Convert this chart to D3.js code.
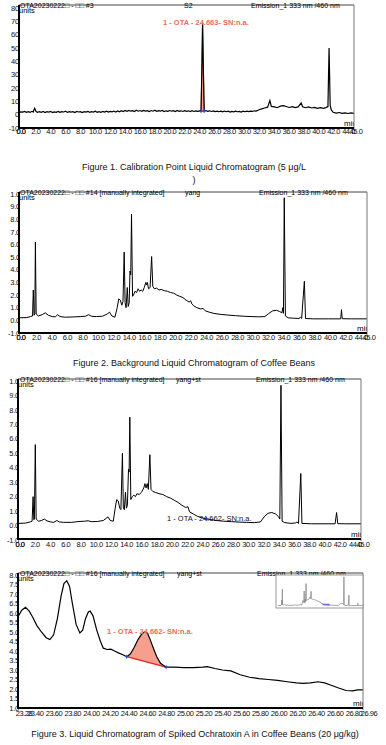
<!DOCTYPE html>
<html lang="en">
<head>
<meta charset="UTF-8">
<title>OTA chromatograms</title>
<style>
  body { margin: 0; background: #fff; }
  svg { display: block; font-family: "Liberation Sans", Arial, sans-serif; }
</style>
</head>
<body>
<script src="https://cdn.jsdelivr.net/npm/d3@7"></script>
<script>
// ---- data (time in min, signal in plot units) ----
const minuteTicks = [0, 2, 4, 6, 8, 10, 12, 14, 16, 18, 20, 22, 24, 26, 28, 30, 32, 34, 36, 38, 40, 42, 44];
const zoomTicks = [23.40, 23.60, 23.80, 24.00, 24.20, 24.40, 24.60, 24.80, 25.00, 25.20, 25.40, 25.60, 25.80, 26.00, 26.20, 26.40, 26.60, 26.80];
const calYTicks = [80, 70, 60, 50, 40, 30, 20, 10, 0, -10];
const beanYTicks = [10, 9, 8, 7, 6, 5, 4, 3, 2, 1, 0, -1];
const beanYLabels = ["1.0", "9.0", "8.0", "7.0", "6.0", "5.0", "4.0", "3.0", "2.0", "1.0", "0.0", "-1.0"];
const zoomYTicks = [8.0, 7.5, 7.0, 6.5, 6.0, 5.5, 5.0, 4.5, 4.0, 3.5, 3.0, 2.5, 2.0, 1.5, 1.0];

// Figure 1: calibration standard 5 ug/L
const calibrationTrace = [[0,1.6],[0.25,2.1],[0.5,1.9],[0.75,2.4],[1,1.7],[1.25,2.2],[1.5,1.8],[1.75,2.5],[1.9,2.0],[2.1,4.8],[2.3,2.3],[2.5,1.7],[2.75,2.3],[3,1.8],[3.25,2.4],[3.5,1.6],[3.75,2.2],[4,1.9],[4.25,2.5],[4.5,1.6],[4.75,2.1],[5,1.8],[5.25,2.4],[5.5,1.7],[5.75,2.2],[6,2.0],[6.25,2.6],[6.5,1.7],[6.75,2.3],[7,1.9],[7.25,2.2],[7.5,1.6],[7.75,2.4],[8,2.0],[8.25,2.3],[8.5,1.6],[8.75,2.2],[9,1.9],[9.25,2.5],[9.5,1.8],[9.75,2.3],[10,1.9],[10.25,2.6],[10.5,1.8],[10.75,2.2],[11,1.7],[11.25,2.4],[11.5,2.0],[11.75,2.6],[12,1.9],[12.25,2.5],[12.5,2.1],[12.75,2.7],[13,2.0],[13.25,2.8],[13.5,2.2],[13.75,3.0],[14,2.4],[14.25,3.1],[14.5,2.5],[14.75,3.2],[15,2.6],[15.25,3.0],[15.5,2.4],[15.75,3.3],[16,2.6],[16.25,3.1],[16.5,2.5],[16.75,3.2],[17,2.7],[17.25,3.0],[17.5,2.4],[17.75,3.1],[18,2.6],[18.25,3.3],[18.5,2.5],[18.75,3.0],[19,2.6],[19.25,3.2],[19.5,2.4],[19.75,2.9],[20,2.5],[20.25,3.1],[20.5,2.6],[20.75,3.0],[21,2.4],[21.25,3.2],[21.5,2.5],[21.75,2.9],[22,2.4],[22.25,3.0],[22.5,2.5],[22.75,2.9],[23,2.3],[23.25,3.0],[23.5,2.4],[23.75,2.8],[24,2.5],[24.25,2.9],[24.45,2.6],[24.55,30],[24.66,69],[24.78,30],[24.88,2.7],[25.1,3.1],[25.35,2.5],[25.6,2.9],[25.85,2.4],[26.1,2.8],[26.35,2.3],[26.6,2.7],[26.85,2.2],[27.1,2.6],[27.35,2.1],[27.6,2.7],[27.85,2.2],[28.1,2.6],[28.35,2.0],[28.6,2.5],[28.85,2.1],[29.1,2.6],[29.35,2.2],[29.6,2.5],[29.85,2.0],[30.1,2.6],[30.35,2.2],[30.6,2.7],[30.85,2.3],[31.1,2.6],[31.35,2.4],[31.6,2.9],[31.85,2.7],[32.1,3.3],[32.5,4.2],[33,5.0],[33.4,5.6],[33.7,10.5],[33.9,6.2],[34.3,5.8],[34.7,5.2],[35.1,6.4],[35.5,6.8],[35.9,6.1],[36.3,5.4],[36.7,6.0],[37.1,5.3],[37.5,5.8],[37.9,8.8],[38.1,5.9],[38.5,5.2],[38.9,5.8],[39.3,5.0],[39.7,5.5],[40.1,4.8],[40.5,5.2],[40.9,4.7],[41.2,5.3],[41.5,6.0],[41.65,50],[41.8,7],[41.95,3.5],[42.2,1.8],[42.6,1.2],[43,1.6],[43.4,1.0],[43.8,1.4],[44.2,0.9],[44.6,1.3],[45,1.0]];
const calPeakWindow = [24.45, 24.88];
const calPeakMarks = [[24.45, 2.6], [24.88, 2.7]];

// Figure 2: coffee bean background
const backgroundTrace = [[0,0.2],[1.0,0.22],[1.5,0.3],[1.75,0.35],[1.85,2.4],[1.95,0.4],[2.05,0.5],[2.12,6.2],[2.22,0.5],[2.5,0.35],[3.0,0.45],[3.4,0.6],[3.8,0.4],[4.3,0.3],[4.7,0.28],[5.0,0.45],[5.3,0.3],[6,0.25],[7,0.27],[8,0.3],[8.6,0.33],[9.0,0.45],[9.4,0.32],[10,0.3],[10.8,0.33],[11.4,0.5],[11.7,0.65],[12.0,0.35],[12.4,0.25],[12.7,1.0],[12.9,1.7],[13.1,1.6],[13.3,1.2],[13.45,1.5],[13.6,5.4],[13.72,1.4],[13.85,1.0],[14.0,2.6],[14.12,1.1],[14.25,1.4],[14.35,3.9],[14.45,3.6],[14.55,8.4],[14.68,1.9],[14.8,2.0],[15.0,2.3],[15.2,2.2],[15.4,2.5],[15.6,2.3],[15.8,2.4],[16.0,2.3],[16.2,2.6],[16.4,3.0],[16.5,2.8],[16.6,3.0],[16.75,2.5],[16.95,2.6],[17.15,5.05],[17.3,2.7],[17.5,2.5],[17.8,2.55],[18.1,2.4],[18.4,2.45],[18.8,2.35],[19.2,2.3],[19.6,2.2],[20.0,2.15],[20.4,2.0],[20.8,1.9],[21.2,1.8],[21.6,1.6],[22.0,1.45],[22.2,1.55],[22.35,1.3],[22.6,1.15],[23.0,1.0],[23.5,0.9],[23.8,0.95],[24.1,0.75],[24.6,0.65],[25.2,0.55],[26,0.48],[27,0.42],[28,0.37],[29,0.33],[30,0.3],[31,0.28],[31.8,0.3],[32.3,0.55],[32.8,0.75],[33.3,0.8],[33.7,0.7],[34.0,0.6],[34.1,1.0],[34.2,0.55],[34.3,9.7],[34.45,0.35],[34.8,0.2],[35.5,0.17],[36.2,0.15],[36.4,0.25],[36.55,0.15],[36.9,3.1],[37.05,0.15],[38,0.12],[40,0.12],[41.6,0.12],[41.7,0.85],[41.8,0.13],[43,0.12],[45,0.12]];

// Figure 3 (top): spiked coffee beans, full run
const spikedTrace = [[0,0.15],[1.0,0.17],[1.6,0.25],[1.85,0.3],[1.98,2.0],[2.08,0.4],[2.15,0.45],[2.27,5.6],[2.38,0.45],[2.7,0.3],[3.1,0.35],[3.45,0.45],[3.8,0.32],[4.3,0.25],[4.7,0.22],[5.1,0.35],[5.4,0.25],[6,0.22],[7,0.22],[8,0.28],[8.7,0.3],[9.2,0.33],[9.6,0.27],[10.4,0.28],[11.2,0.35],[11.8,0.6],[12.1,0.35],[12.5,0.3],[12.75,1.2],[12.95,1.8],[13.15,1.7],[13.35,1.2],[13.5,1.1],[13.7,5.0],[13.82,1.2],[13.95,1.1],[14.1,2.3],[14.22,1.2],[14.35,1.4],[14.5,3.9],[14.58,3.7],[14.67,7.5],[14.8,1.8],[15.0,2.0],[15.2,2.1],[15.4,2.0],[15.6,2.2],[15.9,2.15],[16.2,2.3],[16.5,2.6],[16.65,2.9],[16.8,2.6],[16.95,2.9],[17.1,2.5],[17.3,4.9],[17.45,2.5],[17.7,2.35],[18.0,2.3],[18.5,2.2],[19.0,2.15],[19.5,2.0],[20.0,1.9],[20.5,1.75],[21.0,1.6],[21.5,1.4],[22.0,1.25],[22.3,1.3],[22.5,0.95],[23.0,0.8],[23.5,0.65],[24.0,0.55],[24.6,0.48],[25.2,0.42],[26,0.35],[27,0.3],[28,0.27],[29,0.24],[30,0.22],[31,0.2],[31.8,0.25],[32.3,0.6],[32.8,0.85],[33.3,0.9],[33.8,0.8],[34.2,0.6],[34.35,0.45],[34.5,9.7],[34.65,0.3],[35,0.2],[35.8,0.15],[36.4,0.18],[36.6,0.25],[36.8,0.15],[37.1,3.6],[37.25,0.15],[38.5,0.12],[41.6,0.12],[41.8,0.9],[41.95,0.13],[43,0.12],[45,0.12]];
const spikedMarks = [[24.76, 0.45]];

// Figure 3 (bottom): zoom on the OTA window
const zoomTrace = [[23.28,5.8],[23.32,6.15],[23.36,6.3],[23.40,6.1],[23.44,5.75],[23.48,5.35],[23.53,5.0],[23.58,4.7],[23.62,4.6],[23.66,4.85],[23.70,5.7],[23.74,6.9],[23.77,7.55],[23.80,7.7],[23.83,7.4],[23.86,6.5],[23.90,5.4],[23.94,4.95],[23.97,5.1],[24.00,5.7],[24.03,6.05],[24.05,6.1],[24.08,5.85],[24.12,5.1],[24.16,4.5],[24.19,4.15],[24.23,4.08],[24.27,4.1],[24.31,4.0],[24.35,3.9],[24.40,3.8],[24.44,3.7],[24.48,3.85],[24.52,4.2],[24.56,4.6],[24.60,4.9],[24.63,5.0],[24.66,4.95],[24.69,4.6],[24.72,4.2],[24.76,3.7],[24.80,3.35],[24.86,3.15],[24.95,3.15],[25.05,3.12],[25.15,3.13],[25.25,3.15],[25.30,3.18],[25.38,3.08],[25.46,3.0],[25.55,2.95],[25.65,2.75],[25.75,2.62],[25.85,2.55],[25.95,2.5],[26.05,2.45],[26.15,2.38],[26.25,2.32],[26.32,2.3],[26.40,2.32],[26.48,2.38],[26.55,2.32],[26.62,2.2],[26.70,2.05],[26.78,1.92],[26.85,1.9],[26.90,1.95],[26.96,1.95]];
const zoomPeakWindow = [24.44, 24.86];
const zoomPeakMarks = [[24.44, 3.7], [24.86, 3.15]];

const headSample = "OTA20230222\u25A1 - \u25A1\u25A1";
const emission = "Emission_1 333 nm /460 nm";

const svg = d3.select("body").append("svg").attr("width", 386).attr("height", 745);

function drawPanel(p) {
    const b = p.box;
    const x = d3.scaleLinear().domain(p.xDomain).range([b.l, b.r]);
    const y = d3.scaleLinear().domain(p.yDomain).range(p.yRange);
    const g = svg.append("g");

    // y labels first, plot rect hides whatever runs past the axis
    g.selectAll(".ylab").data(p.yTicks).enter().append("text")
        .attr("x", b.l + p.yLabelEnd).attr("y", d => y(d)).attr("dy", "0.35em")
        .attr("text-anchor", "end").style("font-size", "7.5px").style("letter-spacing", "-0.2px")
        .attr("fill", "#111")
        .text((d, i) => p.yLabels[i]);

    g.append("rect").attr("x", b.l + 1).attr("y", b.t).attr("width", b.r - b.l - 1)
        .attr("height", b.b - b.t).attr("fill", "#fff");

    const clipId = "clip" + p.id;
    g.append("clipPath").attr("id", clipId).append("rect")
        .attr("x", b.l).attr("y", b.t).attr("width", b.r - b.l).attr("height", b.b - b.t);
    const plot = g.append("g").attr("clip-path", "url(#" + clipId + ")");

    if (p.peak) {
        const w = p.peak.window;
        const inWin = p.trace.filter(d => d[0] >= w[0] && d[0] <= w[1]);
        const base = d3.scaleLinear().domain([inWin[0][0], inWin[inWin.length - 1][0]])
            .range([inWin[0][1], inWin[inWin.length - 1][1]]);
        plot.append("path").datum(inWin)
            .attr("d", d3.area().x(d => x(d[0])).y0(d => y(base(d[0]))).y1(d => y(d[1])))
            .attr("fill", "#f5a08f").attr("stroke", p.peak.edge || "none").attr("stroke-width", 0.8);
        if (p.peak.baseline) {
            plot.append("line")
                .attr("x1", x(inWin[0][0])).attr("y1", y(inWin[0][1]))
                .attr("x2", x(inWin[inWin.length - 1][0])).attr("y2", y(inWin[inWin.length - 1][1]))
                .attr("stroke", "#e8261c").attr("stroke-width", 1.3);
        }
    }

    plot.append("path").datum(p.trace)
        .attr("d", d3.line().x(d => x(d[0])).y(d => y(d[1])))
        .attr("fill", "none").attr("stroke", "#000").attr("stroke-width", p.lineWidth || 1);

    (p.marks || []).forEach(m => {
        const mx = x(m[0]), my = y(m[1]);
        plot.append("path").attr("d", `M${mx - 2},${my}H${mx + 2}M${mx},${my - 2}V${my + 2}`)
            .attr("stroke", "#2b4fe0").attr("stroke-width", 1);
    });

    plot.append("text").attr("x", b.r + 3).attr("y", b.b - 2).attr("text-anchor", "end")
        .style("font-size", "8px").text("min");

    // frame: thin top/right, heavy left/bottom
    g.append("line").attr("x1", b.l).attr("x2", b.r).attr("y1", b.t).attr("y2", b.t)
        .attr("stroke", "#444").attr("stroke-width", 1);
    g.append("line").attr("x1", b.r).attr("x2", b.r).attr("y1", b.t).attr("y2", b.b + 2)
        .attr("stroke", "#777").attr("stroke-width", 1);
    g.append("line").attr("x1", b.l).attr("x2", b.l).attr("y1", b.t).attr("y2", b.b + 1)
        .attr("stroke", "#000").attr("stroke-width", 2);
    g.append("line").attr("x1", b.l - 1).attr("x2", b.r).attr("y1", b.b).attr("y2", b.b)
        .attr("stroke", "#000").attr("stroke-width", 2);

    // x labels, with the run start and end values
    const xl = [p.xDomain[0]].concat(p.xTicks, [p.xDomain[1]]);
    g.selectAll(".xlab").data(xl).enter().append("text")
        .attr("x", d => x(d) + p.xLabelShift).attr("y", p.xLabelY)
        .attr("text-anchor", "middle").style("font-size", "7.5px").style("letter-spacing", "-0.45px")
        .attr("fill", "#111")
        .text(d => d.toFixed(p.xDigits));

    // header line sitting on the top border
    p.header.forEach(h => {
        g.append("text").attr("x", h[0]).attr("y", b.t + 2.5).style("font-size", "7px").text(h[1]);
    });
    g.append("text").attr("x", b.l).attr("y", b.t + 8).style("font-size", "7.5px").text("units");

    if (p.label) {
        g.append("text").attr("x", p.label.x).attr("y", p.label.y)
            .attr("fill", p.label.color).style("font-size", "7.5px")
            .style("font-weight", p.label.bold ? "bold" : "normal").text(p.label.text);
    }
    return { x, y, g };
}

drawPanel({
    id: 1, box: { l: 19, t: 5, r: 354, b: 128 },
    xDomain: [0, 45], yDomain: [-10, 80], yRange: [128, 8],
    trace: calibrationTrace, lineWidth: 1.2,
    yTicks: calYTicks, yLabels: calYTicks.map(d => String(d)), yLabelEnd: 0,
    xTicks: minuteTicks, xDigits: 1, xLabelShift: 2, xLabelY: 133.5,
    header: [[20, headSample + " #3"], [184, "S2"], [251, emission]],
    peak: { window: calPeakWindow, edge: "#e23a2e" }, marks: calPeakMarks,
    label: { text: "1 - OTA - 24.663- SN:n.a.", x: 163, y: 25, color: "#f06a5c", bold: true }
});

drawPanel({
    id: 2, box: { l: 19, t: 192, r: 367, b: 333 },
    xDomain: [0, 45], yDomain: [-1, 10], yRange: [333, 194],
    trace: backgroundTrace,
    yTicks: beanYTicks, yLabels: beanYLabels, yLabelEnd: 1,
    xTicks: minuteTicks, xDigits: 1, xLabelShift: 2, xLabelY: 340,
    header: [[20, headSample + " #14 [manually integrated]"], [185, "yang"], [259, emission]]
});

drawPanel({
    id: 3, box: { l: 18, t: 379, r: 361, b: 539 },
    xDomain: [0, 45], yDomain: [-1, 10], yRange: [540, 381],
    trace: spikedTrace, marks: spikedMarks,
    yTicks: beanYTicks, yLabels: beanYLabels, yLabelEnd: 1,
    xTicks: minuteTicks, xDigits: 1, xLabelShift: 2, xLabelY: 547,
    header: [[20, headSample + " #16 [manually integrated]"], [176, "yang+st"], [256, emission]],
    label: { text: "1 - OTA - 24.662- SN:n.a.", x: 167, y: 520.5, color: "#111", bold: false }
});

const zoomPanel = drawPanel({
    id: 4, box: { l: 18, t: 573, r: 363, b: 708 },
    xDomain: [23.28, 26.96], yDomain: [1, 8], yRange: [708, 575],
    trace: zoomTrace, lineWidth: 1.2,
    yTicks: zoomYTicks, yLabels: zoomYTicks.map(d => d.toFixed(1)), yLabelEnd: 1,
    xTicks: zoomTicks, xDigits: 2, xLabelShift: 6, xLabelY: 716,
    header: [[20, headSample + " #16 [manually integrated]"], [177, "yang+st"], [257, emission]],
    peak: { window: zoomPeakWindow, baseline: true }, marks: zoomPeakMarks,
    label: { text: "1 - OTA - 24.662- SN:n.a.", x: 107, y: 634, color: "#f06a5c", bold: true }
});

// overview inset in the zoomed panel
const ix = d3.scaleLinear().domain([0, 45]).range([278, 364]);
const iy = d3.scaleLinear().domain([0, 10]).range([606, 576]);
const inset = zoomPanel.g.append("g");
inset.append("clipPath").attr("id", "insetClip").append("rect")
    .attr("x", 276).attr("y", 575).attr("width", 87).attr("height", 33);
inset.append("rect").attr("x", 276).attr("y", 575).attr("width", 87).attr("height", 33)
    .attr("fill", "#fff").attr("stroke", "#9a9a9a").attr("stroke-width", 1);
inset.append("path").datum(spikedTrace).attr("clip-path", "url(#insetClip)")
    .attr("d", d3.line().x(d => ix(d[0])).y(d => iy(d[1])))
    .attr("fill", "none").attr("stroke", "#8c8c8c").attr("stroke-width", 0.8);
inset.append("line").attr("x1", ix(23.28)).attr("x2", ix(26.96))
    .attr("y1", iy(0.5)).attr("y2", iy(0.45)).attr("stroke", "#6a6ae0").attr("stroke-width", 1.6);

// captions
const captions = [
    ["Figure 1. Calibration Point Liquid Chromatogram (5 \u03BCg/L", 194, 170],
    [")", 194, 183],
    ["Figure 2. Background Liquid Chromatogram of Coffee Beans", 194, 366],
    ["Figure 3. Liquid Chromatogram of Spiked Ochratoxin A in Coffee Beans (20 \u03BCg/kg)", 195, 737]
];
svg.selectAll(".cap").data(captions).enter().append("text")
    .attr("x", d => d[1]).attr("y", d => d[2]).attr("text-anchor", "middle")
    .style("font-size", "9px").attr("fill", "#111").text(d => d[0]);
</script>
</body>
</html>
